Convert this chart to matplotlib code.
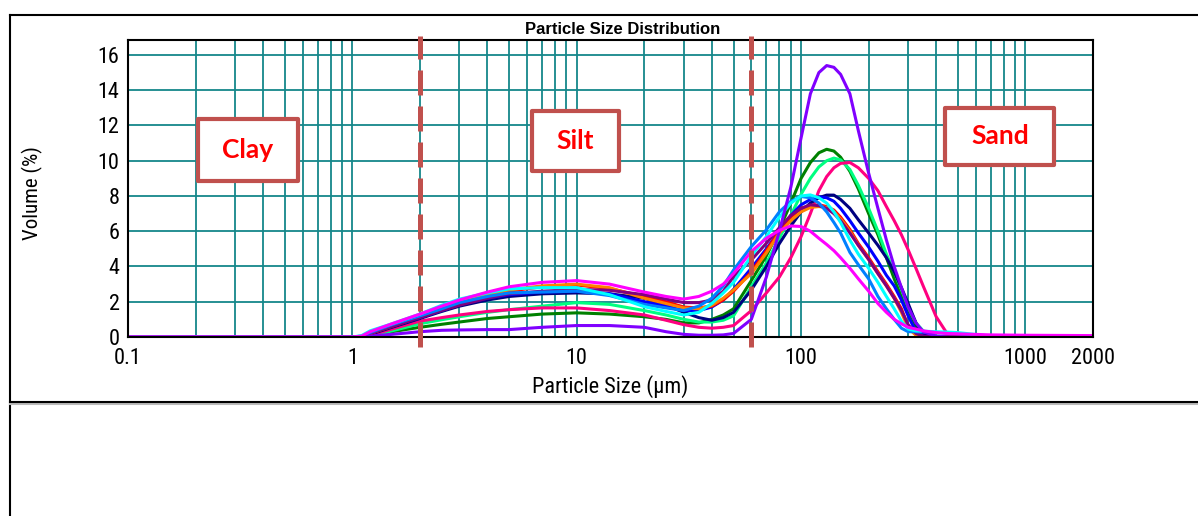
import numpy as np
import matplotlib.pyplot as plt
import matplotlib.ticker as tck
import matplotlib.font_manager as fm
from matplotlib.patches import Rectangle
from matplotlib.lines import Line2D
from matplotlib.transforms import ScaledTranslation

# narrow sans if available, else regular Liberation Sans a bit smaller
installed = {f.name for f in fm.fontManager.ttflist}
narrow = [n for n in ['Liberation Sans Narrow', 'Roboto Condensed', 'Open Sans Condensed'] if n in installed]
if narrow:
    plt.rcParams['font.family'] = [narrow[0], 'DejaVu Sans']
    fsize = 16
else:
    plt.rcParams['font.family'] = ['Liberation Sans', 'DejaVu Sans']
    fsize = 14

# particle sizes (um) shared by every sample
sizes = [0.1, 1.0, 1.1, 1.2, 1.5,
         2, 2.5, 3, 4, 5, 7, 10, 14, 20, 25, 30, 35, 40, 45, 50,
         60, 70, 80, 90, 100, 110, 120, 130, 140, 150, 165, 180, 200, 220, 240, 260, 280, 300, 325, 350,
         400, 450, 500, 700, 1000, 2000]

# volume (%) per sample
green = [0, 0, 0, 0.05, 0.3,
         0.55, 0.72, 0.85, 1.05, 1.15, 1.3, 1.37, 1.3, 1.15, 1.0, 0.8, 0.8, 1.0, 1.25, 1.6,
         3.2, 4.6, 6.1, 7.6, 9.0, 9.9, 10.45, 10.65, 10.55, 10.2, 9.4, 8.4, 7.0, 5.8, 4.5, 3.3, 2.3, 1.4, 0.6, 0.15,
         0, 0, 0, 0, 0, 0]
springgreen = [0, 0, 0, 0.05, 0.35,
               0.75, 0.98, 1.15, 1.4, 1.55, 1.75, 1.95, 1.85, 1.5, 1.25, 1.0, 0.85, 0.85, 0.95, 1.2,
               2.85, 4.2, 5.6, 6.9, 8.1, 9.0, 9.65, 10.0, 10.15, 10.05, 9.5, 8.6, 7.3, 6.0, 4.7, 3.7, 2.7, 1.7, 0.8, 0.35,
               0.05, 0, 0, 0, 0, 0]
deeppink = [0, 0, 0.02, 0.1, 0.45,
            0.9, 1.1, 1.25, 1.45, 1.55, 1.65, 1.65, 1.5, 1.25, 0.95, 0.7, 0.55, 0.5, 0.55, 0.65,
            1.5, 2.5, 3.4, 4.5, 5.7, 7.0, 8.3, 9.1, 9.6, 9.85, 9.9, 9.6, 9.0, 8.3, 7.4, 6.6, 5.8, 4.95, 3.9, 2.9,
            1.15, 0.15, 0, 0, 0, 0]
navy = [0, 0, 0.02, 0.15, 0.55,
        1.05, 1.45, 1.75, 2.1, 2.3, 2.45, 2.5, 2.45, 2.2, 1.8, 1.4, 1.1, 0.95, 1.1, 1.4,
        2.67, 4.0, 5.3, 6.3, 7.1, 7.6, 7.9, 8.05, 8.05, 7.8, 7.3, 6.65, 5.9, 5.2, 4.5, 3.7, 2.8, 1.9, 0.8, 0.1,
        0, 0, 0, 0, 0, 0]
blue = [0, 0, 0.03, 0.2, 0.6,
        1.1, 1.5, 1.85, 2.2, 2.4, 2.55, 2.6, 2.45, 2.0, 1.75, 1.5, 1.5, 1.7, 2.1, 2.7,
        3.9, 5.0, 6.0, 6.9, 7.5, 7.8, 7.95, 7.9, 7.7, 7.3, 6.6, 5.9, 5.1, 4.3, 3.5, 2.9, 2.1, 1.2, 0.3, 0.05,
        0, 0, 0, 0, 0, 0]
red = [0, 0, 0.03, 0.2, 0.6,
       1.15, 1.55, 1.9, 2.35, 2.6, 2.85, 2.95, 2.75, 2.3, 2.0, 1.7, 1.65, 1.75, 2.1, 2.6,
       3.7, 4.9, 6.0, 6.8, 7.3, 7.45, 7.5, 7.4, 7.2, 6.8, 6.1, 5.3, 4.5, 3.7, 3.0, 2.3, 1.6, 0.6, 0.15, 0.02,
       0, 0, 0, 0, 0, 0]
orange = [0, 0, 0.03, 0.2, 0.65,
          1.2, 1.6, 1.95, 2.4, 2.67, 2.9, 3.0, 2.8, 2.2, 1.9, 1.65, 1.6, 1.8, 2.2, 2.67,
          3.6, 4.77, 5.9, 6.6, 7.1, 7.35, 7.4, 7.35, 7.1, 6.7, 6.0, 5.2, 4.4, 3.6, 2.9, 2.2, 1.4, 0.5, 0.1, 0,
          0, 0, 0, 0, 0, 0]
purple = [0, 0, 0.03, 0.2, 0.6,
          1.1, 1.5, 1.8, 2.2, 2.45, 2.6, 2.7, 2.65, 2.4, 2.15, 1.95, 1.95, 2.1, 2.6, 3.43,
          4.37, 5.32, 6.2, 6.9, 7.3, 7.5, 7.45, 7.3, 7.0, 6.6, 5.9, 5.2, 4.4, 3.6, 2.9, 2.2, 1.5, 0.7, 0.2, 0.05,
          0, 0, 0, 0, 0, 0]
dodger = [0, 0, 0.05, 0.25, 0.7,
          1.2, 1.6, 1.95, 2.3, 2.5, 2.55, 2.6, 2.35, 1.85, 1.65, 1.5, 1.75, 2.2, 2.9, 3.8,
          5.13, 6.08, 7.1, 7.7, 7.97, 7.9, 7.6, 7.1, 6.5, 5.9, 4.8, 4.1, 3.3, 2.3, 1.6, 1.0, 0.5, 0.3, 0.3, 0.28,
          0.25, 0.2, 0.2, 0, 0, 0]
cyan = [0, 0, 0.08, 0.35, 0.75,
        1.3, 1.8, 2.15, 2.5, 2.73, 2.8, 2.8, 2.4, 1.72, 1.45, 1.25, 1.4, 1.9, 2.5, 3.1,
        4.6, 5.7, 6.8, 7.6, 8.0, 8.06, 7.9, 7.6, 7.1, 6.5, 5.5, 4.7, 3.9, 3.1, 2.3, 1.6, 0.9, 0.45, 0.35, 0.33,
        0.3, 0.28, 0.25, 0.05, 0, 0]
violet = [0, 0, 0, 0.05, 0.15,
          0.3, 0.38, 0.4, 0.42, 0.42, 0.55, 0.65, 0.65, 0.55, 0.3, 0.15, 0.1, 0.1, 0.12, 0.2,
          1.0, 3.4, 6.0, 8.5, 11.3, 13.8, 15.0, 15.4, 15.3, 14.9, 13.8, 11.7, 9.3, 7.3, 5.5, 4.0, 2.8, 1.7, 0.8, 0.3,
          0.05, 0, 0, 0, 0, 0]
magenta = [0, 0, 0.05, 0.3, 0.75,
           1.3, 1.75, 2.1, 2.55, 2.85, 3.1, 3.2, 3.0, 2.55, 2.3, 2.15, 2.3, 2.6, 3.0, 3.6,
           4.85, 5.6, 6.05, 6.3, 6.27, 6.0, 5.6, 5.25, 4.9, 4.5, 3.9, 3.3, 2.6, 1.9, 1.4, 1.0, 0.75, 0.55, 0.45, 0.35,
           0.25, 0.2, 0.18, 0.12, 0.1, 0.08]

samples = [green, springgreen, deeppink, navy, blue, red, orange, purple, dodger, cyan, violet, magenta]
colors = ['#008000', '#00FF80', '#FF0080', '#000080', '#0000FF', '#FF0000', '#FF8000', '#800080',
          '#0080FF', '#00FFFF', '#8000FF', '#FF00FF']

xticks = [0.1, 1, 10, 100, 1000, 2000]
xticklabels = ['0.1', '1', '10', '100', '1000', '2000']
yticks = [0, 2, 4, 6, 8, 10, 12, 14, 16]

boundaries = [2, 60]
classes = ['Clay', 'Silt', 'Sand']
class_x = [0.342, 9.85, 769]
class_y = [10.63, 11.14, 11.39]
box_px = [(100, 62), (87, 60), (109, 57)]

teal = '#15878A'
boxred = '#C0504D'

fig = plt.figure(figsize=(11.98, 5.16), dpi=100)
ax = fig.add_axes([128 / 1198, 1 - 337 / 516, 965 / 1198, 297 / 516])

for vals, c in zip(samples, colors):
    ax.plot(sizes, vals, color=c, lw=2.2, solid_joinstyle='round')

ax.set_xscale('log')
ax.set_xlim(0.1, 2000)
ax.set_ylim(0, 16.85)
ax.set_xticks(xticks)
ax.set_xticklabels(xticklabels)
ax.xaxis.set_minor_locator(tck.LogLocator(base=10, subs=range(2, 10), numticks=20))
ax.xaxis.set_minor_formatter(tck.NullFormatter())
ax.set_yticks(yticks)
ax.tick_params(which='both', length=0, labelsize=fsize)
ax.tick_params(axis='x', pad=8)
ax.tick_params(axis='y', pad=6)
ax.grid(axis='x', which='both', color=teal, lw=1.3)
ax.grid(axis='y', which='major', color=teal, lw=1.3)
ax.set_axisbelow(True)
for s in ax.spines.values():
    s.set_linewidth(1.5)
    s.set_color('black')

for b in boundaries:
    ax.axvline(b, ymin=-0.035, ymax=1.013, clip_on=False, color=boxred, lw=3.6,
               dashes=(5, 2.2), zorder=4)

for name, x, y, (w, h) in zip(classes, class_x, class_y, box_px):
    trans = fig.dpi_scale_trans + ScaledTranslation(x, y, ax.transData)
    ax.add_patch(Rectangle((-w / 200, -h / 200), w / 100, h / 100, transform=trans,
                           facecolor='white', edgecolor=boxred, lw=3.0, zorder=5,
                           joinstyle='round', clip_on=False))
    ax.text(x, y, name, ha='center', va='center', color='#FF0000', fontsize=19,
            fontweight='bold', family=['Lato', 'DejaVu Sans'], zorder=6)

fig.text(623 / 1198, 1 - 30 / 516, 'Particle Size Distribution', ha='center', va='center',
         fontsize=12, fontweight='bold', family=['Liberation Sans', 'DejaVu Sans'])
fig.text(610 / 1198, 1 - 387 / 516, 'Particle Size (µm)', ha='center', va='center', fontsize=fsize)
fig.text(32 / 1198, 1 - 193 / 516, 'Volume (%)', ha='center', va='center', fontsize=fsize - 1, rotation=90)

# outer frame lines of the report
fig.add_artist(Line2D([10 / 1198, 10 / 1198], [0, 1 - 15 / 516], transform=fig.transFigure, color='black', lw=1.5))
fig.add_artist(Line2D([10 / 1198, 1], [1 - 15 / 516, 1 - 15 / 516], transform=fig.transFigure, color='black', lw=1.5))
fig.add_artist(Line2D([10 / 1198, 1], [1 - 404 / 516, 1 - 404 / 516], transform=fig.transFigure, color='#BBBBBB', lw=1.5))
fig.add_artist(Line2D([10 / 1198, 1], [1 - 402 / 516, 1 - 402 / 516], transform=fig.transFigure, color='black', lw=1.5))

fig.savefig('out.png', dpi=100)
